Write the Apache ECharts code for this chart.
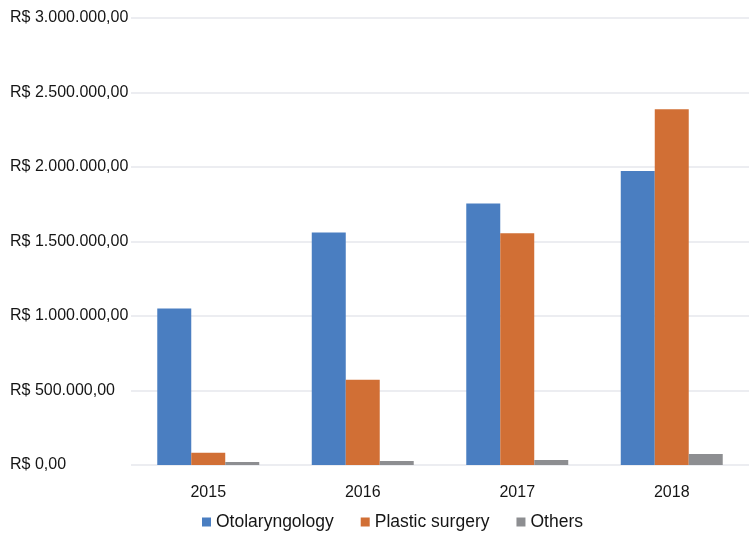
<!DOCTYPE html>
<html>
<head>
<meta charset="utf-8">
<script src="https://cdn.jsdelivr.net/npm/echarts@6/dist/echarts.min.js"></script>
<style>html,body{margin:0;padding:0;background:#fff}#c{width:750px;height:538px}</style>
</head>
<body>
<div id="c"></div>
<script>
const categories = ['2015', '2016', '2017', '2018'];
const otolaryngology = [1050000, 1560000, 1755000, 1973000];
const plasticSurgery = [82000, 572000, 1555000, 2388000];
const others = [20000, 27000, 33000, 74000];
const seriesNames = ['Otolaryngology', 'Plastic surgery', 'Others'];
const colors = ['#4a7ec1', '#d16f35', '#8d8e91'];

function brl(v) {
  const parts = v.toFixed(2).split('.');
  const intPart = parts[0].replace(/\B(?=(\d{3})+(?!\d))/g, '.');
  return 'R$ ' + intPart + ',' + parts[1];
}

const font = '"Liberation Sans", Arial, sans-serif';
const chart = echarts.init(document.getElementById('c'), null, {renderer: 'canvas'});
const data = [otolaryngology, plasticSurgery, others];
chart.setOption({
  animation: false,
  backgroundColor: '#fff',
  grid: {left: 131, right: 1, top: 18, bottom: 73},
  legend: {
    top: 508,
    left: 197,
    itemWidth: 9,
    itemHeight: 9,
    itemGap: 27,
    icon: 'rect',
    textStyle: {fontFamily: font, fontSize: 17.5, color: '#151515'},
    data: seriesNames
  },
  xAxis: {
    type: 'category',
    data: categories,
    axisLine: {show: false},
    axisTick: {show: false},
    axisLabel: {fontFamily: font, fontSize: 16, color: '#151515', margin: 20}
  },
  yAxis: {
    type: 'value',
    min: 0,
    max: 3000000,
    interval: 500000,
    axisLine: {show: false},
    axisTick: {show: false},
    splitLine: {lineStyle: {color: '#e6e7ec', width: 1.5}},
    axisLabel: {fontFamily: font, fontSize: 16, color: '#151515', margin: 121, align: 'left', formatter: brl}
  },
  series: seriesNames.map((n, i) => ({
    name: n,
    type: 'bar',
    data: data[i],
    itemStyle: {color: colors[i]},
    barGap: '0%',
    barCategoryGap: '34%'
  }))
});
</script>
</body>
</html>
